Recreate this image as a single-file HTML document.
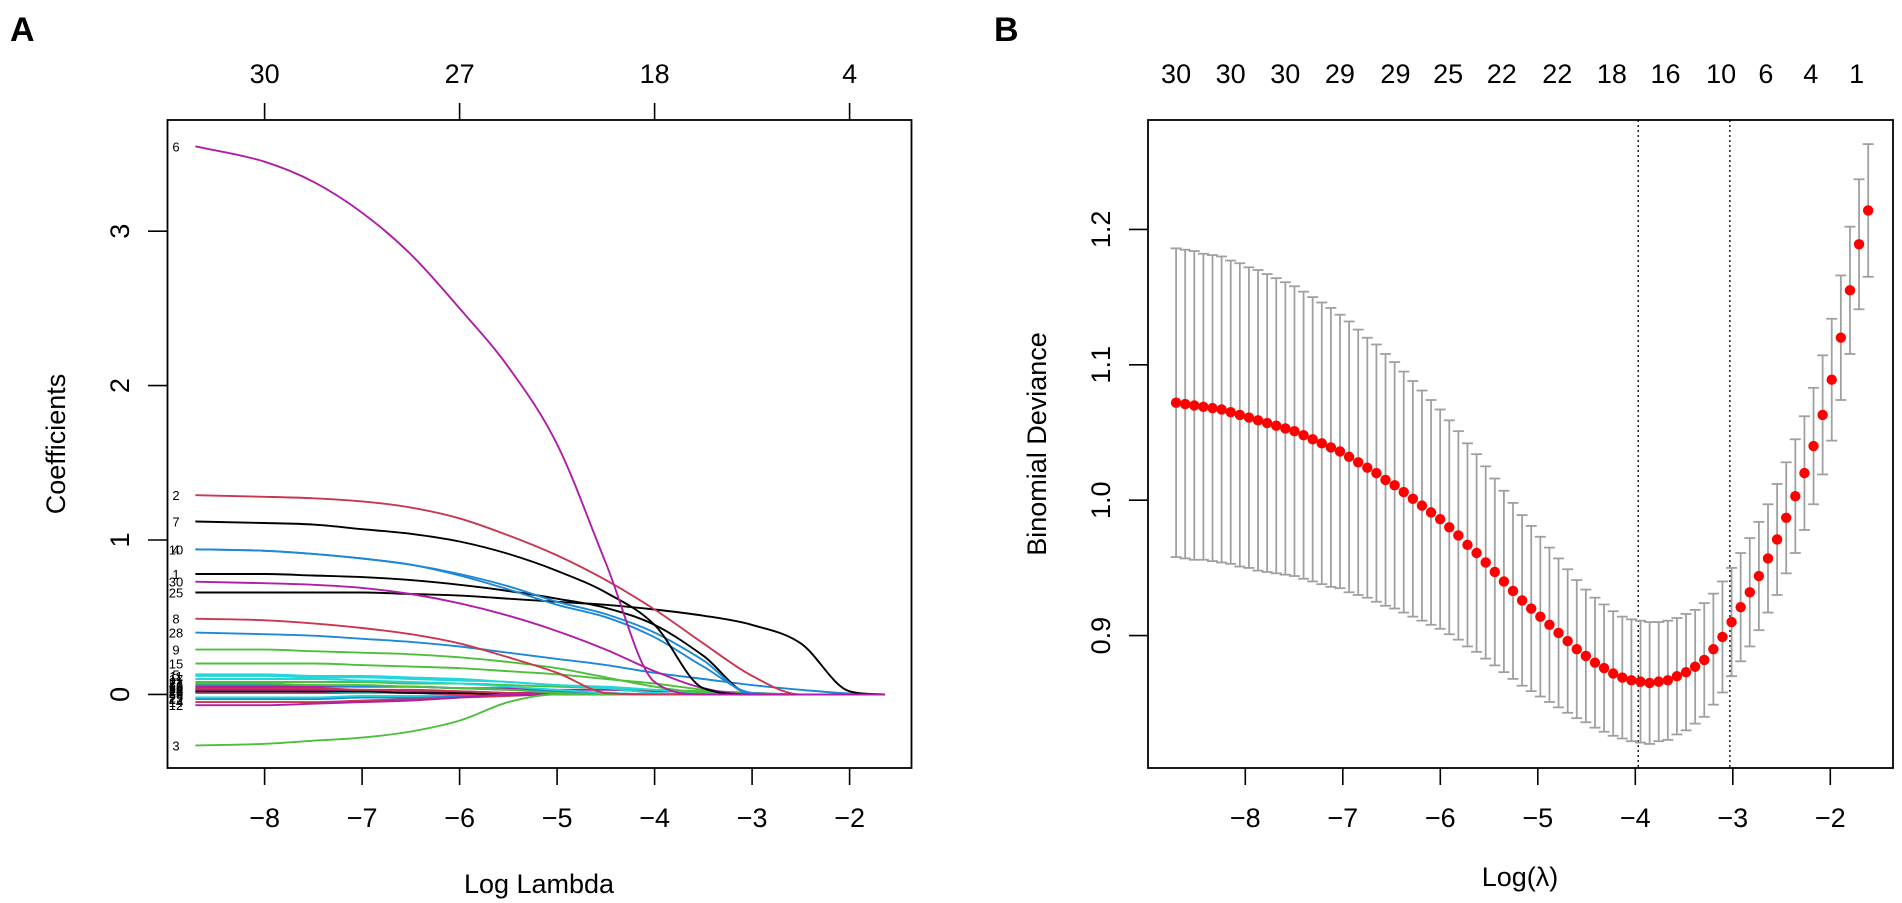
<!DOCTYPE html>
<html><head><meta charset="utf-8"><style>
html,body{margin:0;padding:0;background:#fff;}
svg{display:block;font-family:"Liberation Sans",Arial,sans-serif;}
</style></head><body>
<svg id="fig" width="1902" height="903" viewBox="0 0 1902 903" xmlns="http://www.w3.org/2000/svg">
<rect width="1902" height="903" fill="#fff"/>
<text x="10" y="41" font-size="34" font-weight="bold">A</text>
<text x="994" y="41" font-size="34" font-weight="bold">B</text>
<g id="pa"></g>
<g id="pb"></g>
</svg>
<script>
// ---------- Panel A data ----------
const gridA = [-8.71,-8,-7.5,-7,-6.5,-6,-5.5,-5,-4.5,-4,-3.5,-3,-2.5,-2,-1.64];
const varIds = [6,2,7,4,10,1,30,25,8,28,9,15,3,12,5,11,17,21,27,16,18,20,24,13,19,23,26,29,22,14];
const c6  = [3.55,3.45,3.32,3.12,2.85,2.50,2.12,1.62,0.85,0.08,0,0,0,0,0];
const c2  = [1.29,1.28,1.27,1.25,1.21,1.14,1.03,0.90,0.74,0.55,0.33,0.12,0,0,0];
const c7  = [1.12,1.11,1.10,1.07,1.04,0.99,0.91,0.80,0.66,0.45,0.04,0,0,0,0];
const c4  = [0.94,0.93,0.91,0.88,0.84,0.78,0.70,0.60,0.52,0.40,0.22,0,0,0,0];
const c10 = [0.94,0.93,0.91,0.88,0.84,0.77,0.68,0.58,0.50,0.37,0.18,0.01,0,0,0];
const c1  = [0.78,0.78,0.77,0.76,0.74,0.71,0.67,0.62,0.56,0.45,0.25,0,0,0,0];
const c30 = [0.73,0.72,0.71,0.69,0.65,0.59,0.51,0.41,0.29,0.15,0.04,0,0,0,0];
const c25 = [0.66,0.66,0.66,0.66,0.65,0.64,0.62,0.60,0.58,0.55,0.51,0.45,0.33,0.02,0];
const c8  = [0.49,0.48,0.46,0.43,0.39,0.33,0.24,0.14,0.01,0,0,0,0,0,0];
const c28 = [0.40,0.39,0.38,0.36,0.34,0.31,0.27,0.23,0.19,0.14,0.10,0.06,0.03,0.005,0];
const c9  = [0.29,0.29,0.28,0.27,0.26,0.24,0.21,0.17,0.11,0.05,0.01,0,0,0,0];
const c15 = [0.20,0.20,0.20,0.19,0.18,0.17,0.15,0.13,0.10,0.07,0.03,0,0,0,0];
const c3  = [-0.33,-0.32,-0.30,-0.28,-0.24,-0.17,-0.05,0,0,0,0,0,0,0,0];
const c12 = [-0.07,-0.07,-0.06,-0.05,-0.04,-0.02,0,0,0,0,0,0,0,0,0];
const c5  = [0.13,0.13,0.12,0.12,0.11,0.10,0.08,0.06,0.04,0.01,0,0,0,0,0];
const c11 = [0.12,0.12,0.11,0.11,0.10,0.09,0.08,0.06,0.05,0.03,0.01,0,0,0,0];
const c17 = [0.10,0.10,0.10,0.09,0.08,0.07,0.05,0.03,0.01,0,0,0,0,0,0];
const c21 = [0.08,0.08,0.08,0.08,0.07,0.07,0.06,0.05,0.04,0.03,0.02,0.01,0,0,0];
const c27 = [0.07,0.07,0.06,0.06,0.05,0.04,0.03,0.01,0,0,0,0,0,0,0];
const c16 = [0.06,0.06,0.06,0.05,0.05,0.04,0.03,0.02,0.01,0,0,0,0,0,0];
const c18 = [0.05,0.05,0.05,0.05,0.05,0.04,0.04,0.03,0.03,0.02,0.02,0.01,0,0,0];
const c20 = [0.04,0.04,0.04,0.03,0.03,0.02,0.01,0,0,0,0,0,0,0,0];
const c24 = [0.03,0.03,0.03,0.03,0.02,0.02,0.01,0.01,0,0,0,0,0,0,0];
const c13 = [0.03,0.03,0.02,0.02,0.02,0.01,0.01,0,0,0,0,0,0,0,0];
const c19 = [0.02,0.02,0.02,0.02,0.01,0.01,0,0,0,0,0,0,0,0,0];
const c23 = [0.02,0.02,0.02,0.01,0.01,0.01,0.01,0,0,0,0,0,0,0,0];
const c26 = [0.01,0.01,0.01,0.01,0.01,0,0,0,0,0,0,0,0,0,0];
const c29 = [-0.02,-0.02,-0.02,-0.01,-0.01,0,0,0,0,0,0,0,0,0,0];
const c22 = [-0.03,-0.03,-0.03,-0.02,-0.02,-0.01,0,0,0,0,0,0,0,0,0];
const c14 = [-0.05,-0.05,-0.05,-0.04,-0.03,-0.02,-0.01,0,0,0,0,0,0,0,0];
const coefA = [c6,c2,c7,c4,c10,c1,c30,c25,c8,c28,c9,c15,c3,c12,c5,c11,c17,c21,c27,c16,c18,c20,c24,c13,c19,c23,c26,c29,c22,c14];
const xTicksA = [-8,-7,-6,-5,-4,-3,-2];
const yTicksA = [0,1,2,3];
const topPosA = [-8,-6,-4,-2];
const topLabA = ["30","27","18","4"];

// ---------- Panel B data ----------
const lamStart = -8.71, lamStep = 0.0934;
const meanB = [1.072,1.071,1.070,1.069,1.068,1.067,1.065,1.063,1.061,1.059,1.057,1.055,1.053,1.051,1.048,1.045,1.042,1.039,1.036,1.032,1.028,1.024,1.020,1.015,1.011,1.006,1.001,0.996,0.991,0.986,0.980,0.974,0.967,0.961,0.954,0.947,0.940,0.933,0.926,0.920,0.914,0.908,0.902,0.896,0.890,0.885,0.880,0.876,0.872,0.869,0.867,0.866,0.865,0.866,0.867,0.870,0.873,0.877,0.882,0.890,0.899,0.910,0.921,0.932,0.944,0.957,0.971,0.987,1.003,1.020,1.040,1.063,1.089,1.120,1.155,1.189,1.214];
const halfB = [.114,.114,.114,.113,.113,.113,.112,.112,.111,.111,.110,.109,.108,.107,.106,.105,.104,.103,.101,.100,.098,.096,.095,.093,.091,.089,.087,.085,.083,.081,.079,.077,.075,.073,.071,.069,.067,.065,.063,.061,.059,.057,.055,.053,.051,.049,.048,.047,.046,.045,.045,.045,.045,.044,.044,.043,.043,.042,.042,.041,.041,.040,.040,.040,.040,.040,.041,.041,.042,.042,.043,.044,.045,.046,.047,.048,.049];
const xTicksB = [-8,-7,-6,-5,-4,-3,-2];
const yTicksB = [0.9,1.0,1.1,1.2];
const topPosB = [-8.71,-8.15,-7.59,-7.03,-6.46,-5.92,-5.37,-4.80,-4.24,-3.69,-3.12,-2.66,-2.20,-1.73];
const topLabB = ["30","30","30","29","29","25","22","22","18","16","10","6","4","1"];
const vlines = [-3.97,-3.03];

const NS="http://www.w3.org/2000/svg";
function mk(parent,tag,attrs,txt){const e=document.createElementNS(NS,tag);for(const k in attrs)e.setAttribute(k,attrs[k]);if(txt!==undefined)e.textContent=txt;parent.appendChild(e);return e;}
const palette=["#000000","#C8374F","#4DBF3C","#1E88D6","#22D6DA","#B01EA8"];
const FS=27;

const xA=v=>264.6+(v+8)*97.5, yA=v=>694.4-v*154.4;
const xB=v=>1245.3+(v+8)*97.5, yB=v=>635.6-(v-0.9)*1354;

function monoPath(xs,ys){
  const n=xs.length, d=[], m=[];
  for(let i=0;i<n-1;i++) d.push((ys[i+1]-ys[i])/(xs[i+1]-xs[i]));
  m[0]=d[0]; m[n-1]=d[n-2];
  for(let i=1;i<n-1;i++){ m[i]=(d[i-1]*d[i]<=0)?0:(d[i-1]+d[i])/2; }
  for(let i=0;i<n-1;i++){ if(d[i]===0){m[i]=0;m[i+1]=0;continue;} const a=m[i]/d[i],b=m[i+1]/d[i],s=a*a+b*b; if(s>9){const t=3/Math.sqrt(s);m[i]=t*a*d[i];m[i+1]=t*b*d[i];} }
  let p="M"+xs[0].toFixed(1)+","+ys[0].toFixed(1);
  for(let i=0;i<n-1;i++){const h=(xs[i+1]-xs[i])/3;
    p+=" C"+(xs[i]+h).toFixed(1)+","+(ys[i]+m[i]*h).toFixed(1)+" "+(xs[i+1]-h).toFixed(1)+","+(ys[i+1]-m[i+1]*h).toFixed(1)+" "+xs[i+1].toFixed(1)+","+ys[i+1].toFixed(1);}
  return p;
}

// ----- Panel A -----
const pa=document.getElementById('pa');
const boxA=mk(pa,'rect',{x:167.5,y:120,width:744,height:648,fill:'none',stroke:'#000','stroke-width':1.8});


for(let k=coefA.length-1;k>=0;k--){
  const id=varIds[k], col=palette[(id-1)%6];
  const xs=gridA.map(xA), ys=coefA[k].map(yA);
  const p=mk(pa,'path',{d:monoPath(xs,ys),fill:'none',stroke:col,'stroke-width':1.9});
  
  
}
varIds.forEach((id,k)=>{
  const t=mk(pa,'text',{x:176,y:yA(coefA[k][0])+5,'font-size':13,'text-anchor':'middle',fill:'#000'},String(id));
  
  
});
xTicksA.forEach(v=>{
  const l=mk(pa,'line',{x1:xA(v),x2:xA(v),y1:768,y2:785,stroke:'#000','stroke-width':1.6});
  
  
  const t=mk(pa,'text',{x:xA(v),y:827,'font-size':FS,'text-anchor':'middle'},"\u2212"+Math.abs(v));
  
  
});
yTicksA.forEach(v=>{
  const l=mk(pa,'line',{x1:148,x2:167.5,y1:yA(v),y2:yA(v),stroke:'#000','stroke-width':1.6});
  
  
  const t=mk(pa,'text',{x:0,y:0,'font-size':FS,'text-anchor':'middle',transform:'translate(129,'+yA(v)+') rotate(-90)'},String(v));
  
  
});
topPosA.forEach((v,i)=>{
  const l=mk(pa,'line',{x1:xA(v),x2:xA(v),y1:103,y2:120,stroke:'#000','stroke-width':1.6});
  
  
  const t=mk(pa,'text',{x:xA(v),y:83,'font-size':FS,'text-anchor':'middle'},topLabA[i]);
  
  
});
let tA=mk(pa,'text',{x:539,y:893,'font-size':FS,'text-anchor':'middle'},'Log Lambda');


tA=mk(pa,'text',{x:0,y:0,'font-size':FS,'text-anchor':'middle',transform:'translate(65,444) rotate(-90)'},'Coefficients');



// ----- Panel B -----
const pb=document.getElementById('pb');
const boxB=mk(pb,'rect',{x:1148,y:120,width:745,height:648,fill:'none',stroke:'#000','stroke-width':1.8});


vlines.forEach(v=>{
  const l=mk(pb,'line',{x1:xB(v),x2:xB(v),y1:120,y2:768,stroke:'#000','stroke-width':1.3,'stroke-dasharray':'2,3'});
  
  
});
meanB.forEach((m,i)=>{
  const lx=lamStart+i*lamStep, x=xB(lx), hi=yB(m+halfB[i]), lo=yB(m-halfB[i]);
  const g=mk(pb,'g',{});
  
  
  mk(g,'line',{x1:x,x2:x,y1:hi,y2:lo,stroke:'#a0a0a0','stroke-width':1.8});
  mk(g,'line',{x1:x-5.5,x2:x+5.5,y1:hi,y2:hi,stroke:'#a0a0a0','stroke-width':1.8});
  mk(g,'line',{x1:x-5.5,x2:x+5.5,y1:lo,y2:lo,stroke:'#a0a0a0','stroke-width':1.8});
});
meanB.forEach((m,i)=>{
  const c=mk(pb,'circle',{cx:xB(lamStart+i*lamStep),cy:yB(m),r:5.2,fill:'#ff0000'});
  
  
});
xTicksB.forEach(v=>{
  const l=mk(pb,'line',{x1:xB(v),x2:xB(v),y1:768,y2:785,stroke:'#000','stroke-width':1.6});
  
  
  const t=mk(pb,'text',{x:xB(v),y:827,'font-size':FS,'text-anchor':'middle'},"\u2212"+Math.abs(v));
  
  
});
yTicksB.forEach(v=>{
  const l=mk(pb,'line',{x1:1129,x2:1148,y1:yB(v),y2:yB(v),stroke:'#000','stroke-width':1.6});
  
  
  const t=mk(pb,'text',{x:0,y:0,'font-size':FS,'text-anchor':'middle',transform:'translate(1110,'+yB(v)+') rotate(-90)'},v.toFixed(1));
  
  
});
topPosB.forEach((v,i)=>{
  const t=mk(pb,'text',{x:xB(v),y:83,'font-size':FS,'text-anchor':'middle'},topLabB[i]);
  
  
});
let tB=mk(pb,'text',{x:1520,y:886,'font-size':FS,'text-anchor':'middle'},'Log(\u03BB)');


tB=mk(pb,'text',{x:0,y:0,'font-size':FS,'text-anchor':'middle',transform:'translate(1046,444) rotate(-90)'},'Binomial Deviance');


</script>
</body></html>
